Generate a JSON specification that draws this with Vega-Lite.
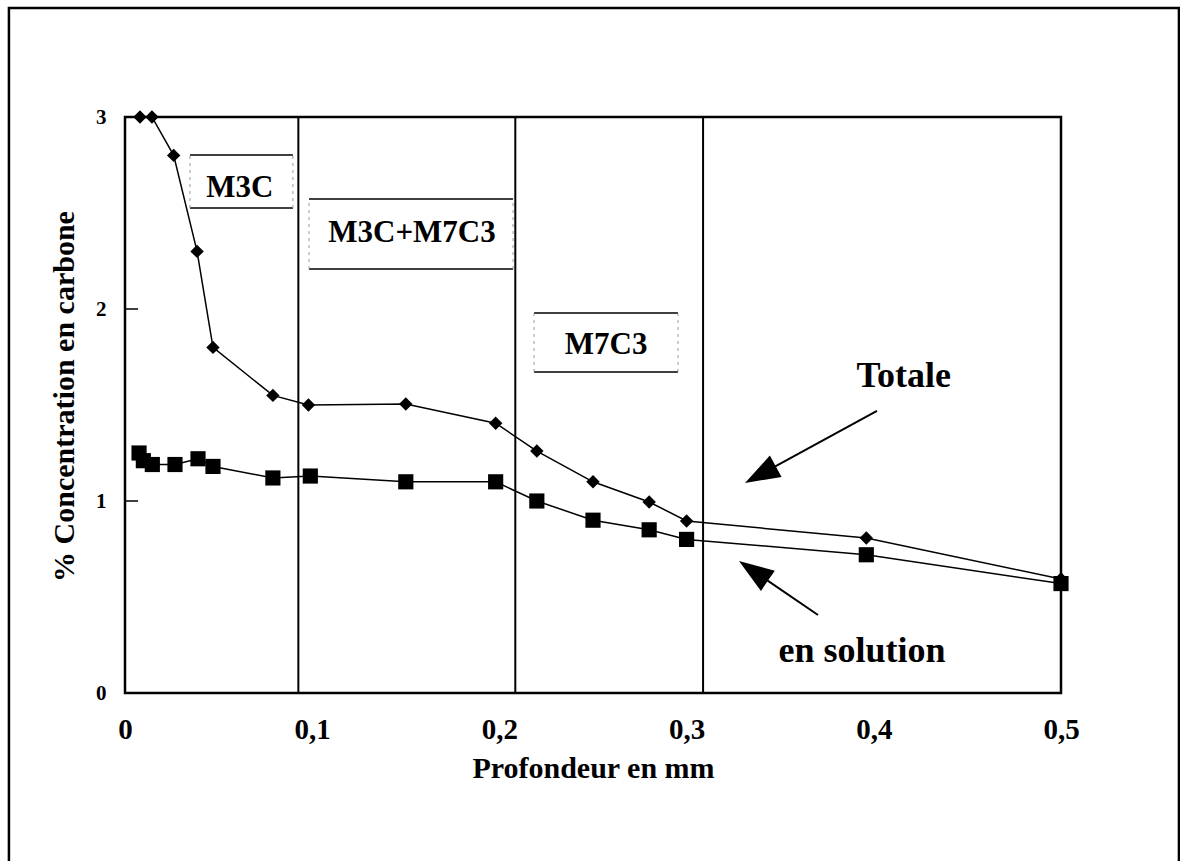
{
  "$schema": "https://vega.github.io/schema/vega-lite/v6.json",
  "autosize": "none",
  "padding": {"left": 125, "top": 117, "right": 119, "bottom": 168},
  "width": 936,
  "height": 576,
  "background": "white",
  "config": {
    "view": {"stroke": "black", "strokeWidth": 2.5},
    "font": "Liberation Serif",
    "axis": {"grid": false, "domain": false, "ticks": false, "tickSize": 0, "labelFlush": false, "labelOverlap": false, "labelFont": "Liberation Serif", "titleFont": "Liberation Serif", "labelFontWeight": "bold", "titleFontWeight": "bold", "labelColor": "black", "titleColor": "black"}
  },
  "datasets": {
    "curves": [
      {"serie": "Totale", "x": 0.008, "y": 3.0},
      {"serie": "Totale", "x": 0.0144, "y": 3.0},
      {"serie": "Totale", "x": 0.026, "y": 2.8},
      {"serie": "Totale", "x": 0.0385, "y": 2.3},
      {"serie": "Totale", "x": 0.047, "y": 1.8},
      {"serie": "Totale", "x": 0.079, "y": 1.55},
      {"serie": "Totale", "x": 0.098, "y": 1.5},
      {"serie": "Totale", "x": 0.15, "y": 1.505},
      {"serie": "Totale", "x": 0.198, "y": 1.405},
      {"serie": "Totale", "x": 0.22, "y": 1.26},
      {"serie": "Totale", "x": 0.25, "y": 1.1},
      {"serie": "Totale", "x": 0.28, "y": 0.995},
      {"serie": "Totale", "x": 0.3, "y": 0.896},
      {"serie": "Totale", "x": 0.396, "y": 0.807},
      {"serie": "Totale", "x": 0.5, "y": 0.594},
      {"serie": "en solution", "x": 0.0075, "y": 1.25},
      {"serie": "en solution", "x": 0.0098, "y": 1.21},
      {"serie": "en solution", "x": 0.0146, "y": 1.19},
      {"serie": "en solution", "x": 0.0267, "y": 1.19},
      {"serie": "en solution", "x": 0.039, "y": 1.22},
      {"serie": "en solution", "x": 0.047, "y": 1.18},
      {"serie": "en solution", "x": 0.079, "y": 1.12},
      {"serie": "en solution", "x": 0.099, "y": 1.13},
      {"serie": "en solution", "x": 0.15, "y": 1.1},
      {"serie": "en solution", "x": 0.198, "y": 1.1},
      {"serie": "en solution", "x": 0.22, "y": 1.0},
      {"serie": "en solution", "x": 0.25, "y": 0.9},
      {"serie": "en solution", "x": 0.28, "y": 0.85},
      {"serie": "en solution", "x": 0.3, "y": 0.8},
      {"serie": "en solution", "x": 0.396, "y": 0.72},
      {"serie": "en solution", "x": 0.5, "y": 0.57}
    ],
    "zones": [{"x": 0.0926}, {"x": 0.2085}, {"x": 0.3088}],
    "ticks": [{"y": 1}, {"y": 2}],
    "boxes": [
      {"label": "M3C", "xc": 0.0614, "yt": 2.583, "x1": 0.0347, "x2": 0.0897, "ytop": 2.802, "ybot": 2.526},
      {"label": "M3C+M7C3", "xc": 0.1533, "yt": 2.349, "x1": 0.0983, "x2": 0.2073, "ytop": 2.573, "ybot": 2.208},
      {"label": "M7C3", "xc": 0.257, "yt": 1.766, "x1": 0.2185, "x2": 0.2954, "ytop": 1.979, "ybot": 1.672}
    ],
    "notes": [
      {"label": "Totale", "x": 0.416, "y": 1.594},
      {"label": "en solution", "x": 0.3937, "y": 0.161}
    ],
    "arrows": [
      {"name": "Totale", "xs": 0.4017, "ys": 1.469, "xt": 0.3312, "yt": 1.094, "xh": 0.3394, "yh": 1.1375, "angle": 241.4},
      {"name": "en solution", "xs": 0.3702, "ys": 0.406, "xt": 0.328, "yt": 0.6875, "xh": 0.3357, "yh": 0.636, "angle": 304.4}
    ],
    "frame": [{"x1": -0.062, "x2": 0.563, "y1": 3.568, "y2": -1.0}]
  },
  "layer": [
    {
      "data": {"name": "frame"},
      "mark": {"type": "rect", "fill": null, "fillOpacity": 0, "stroke": "black", "strokeWidth": 2.5, "clip": false},
      "encoding": {
        "x": {"field": "x1", "type": "quantitative", "scale": {"domain": [0, 0.5], "nice": false, "zero": false}, "axis": {"values": [0, 0.1, 0.2, 0.3, 0.4, 0.5], "labelExpr": "datum.value == 0 ? '0' : replace(format(datum.value, '.1f'), '.', ',')", "labelFontSize": 29, "labelPadding": 22, "title": "Profondeur en mm", "titleFontSize": 30, "titleBaseline": "alphabetic", "titleY": 84}},
        "x2": {"field": "x2"},
        "y": {"field": "y1", "type": "quantitative", "scale": {"domain": [0, 3], "nice": false, "zero": false}, "axis": {"values": [0, 1, 2, 3], "format": "d", "labelFontSize": 21, "labelPadding": 19, "title": "% Concentration en carbone", "titleFontSize": 30, "titleBaseline": "alphabetic", "titleX": -52, "titleY": 279}},
        "y2": {"field": "y2"}
      }
    },
    {
      "data": {"name": "zones"},
      "mark": {"type": "rule", "color": "black", "strokeWidth": 2},
      "encoding": {
        "x": {"field": "x", "type": "quantitative"},
        "y": {"datum": 0, "type": "quantitative"},
        "y2": {"datum": 3}
      }
    },
    {
      "data": {"name": "ticks"},
      "mark": {"type": "rule", "color": "black", "strokeWidth": 1.5},
      "encoding": {
        "x": {"datum": 0, "type": "quantitative"},
        "x2": {"datum": 0.007},
        "y": {"field": "y", "type": "quantitative"}
      }
    },
    {
      "data": {"name": "boxes"},
      "mark": {"type": "rule", "color": "black", "strokeWidth": 1.5},
      "encoding": {
        "x": {"field": "x1", "type": "quantitative"},
        "x2": {"field": "x2"},
        "y": {"field": "ytop", "type": "quantitative"}
      }
    },
    {
      "data": {"name": "boxes"},
      "mark": {"type": "rule", "color": "black", "strokeWidth": 1.5},
      "encoding": {
        "x": {"field": "x1", "type": "quantitative"},
        "x2": {"field": "x2"},
        "y": {"field": "ybot", "type": "quantitative"}
      }
    },
    {
      "data": {"name": "boxes"},
      "mark": {"type": "rule", "color": "#999999", "strokeWidth": 1, "strokeDash": [3, 4]},
      "encoding": {
        "x": {"field": "x1", "type": "quantitative"},
        "y": {"field": "ybot", "type": "quantitative"},
        "y2": {"field": "ytop"}
      }
    },
    {
      "data": {"name": "boxes"},
      "mark": {"type": "rule", "color": "#999999", "strokeWidth": 1, "strokeDash": [3, 4]},
      "encoding": {
        "x": {"field": "x2", "type": "quantitative"},
        "y": {"field": "ybot", "type": "quantitative"},
        "y2": {"field": "ytop"}
      }
    },
    {
      "data": {"name": "boxes"},
      "mark": {"type": "text", "fontSize": 31, "fontWeight": "bold", "font": "Liberation Serif", "align": "center", "baseline": "alphabetic", "color": "black"},
      "encoding": {
        "x": {"field": "xc", "type": "quantitative"},
        "y": {"field": "yt", "type": "quantitative"},
        "text": {"field": "label"}
      }
    },
    {
      "data": {"name": "notes"},
      "mark": {"type": "text", "fontSize": 36, "fontWeight": "bold", "font": "Liberation Serif", "align": "center", "baseline": "alphabetic", "color": "black"},
      "encoding": {
        "x": {"field": "x", "type": "quantitative"},
        "y": {"field": "y", "type": "quantitative"},
        "text": {"field": "label"}
      }
    },
    {
      "data": {"name": "arrows"},
      "mark": {"type": "rule", "color": "black", "strokeWidth": 2},
      "encoding": {
        "x": {"field": "xs", "type": "quantitative"},
        "y": {"field": "ys", "type": "quantitative"},
        "x2": {"field": "xh"},
        "y2": {"field": "yh"}
      }
    },
    {
      "data": {"name": "arrows"},
      "mark": {"type": "point", "shape": "M0,-1L0.7,1L-0.7,1Z", "size": 1225, "filled": true, "color": "black", "opacity": 1},
      "encoding": {
        "x": {"field": "xh", "type": "quantitative"},
        "y": {"field": "yh", "type": "quantitative"},
        "angle": {"field": "angle", "type": "quantitative", "scale": null}
      }
    },
    {
      "data": {"name": "curves"},
      "mark": {"type": "line", "color": "black", "strokeWidth": 1.5},
      "encoding": {
        "x": {"field": "x", "type": "quantitative"},
        "y": {"field": "y", "type": "quantitative"},
        "detail": {"field": "serie"}
      }
    },
    {
      "data": {"name": "curves"},
      "mark": {"type": "point", "filled": true, "color": "black", "opacity": 1},
      "encoding": {
        "x": {"field": "x", "type": "quantitative"},
        "y": {"field": "y", "type": "quantitative"},
        "shape": {"field": "serie", "type": "nominal", "scale": {"domain": ["Totale", "en solution"], "range": ["diamond", "square"]}, "legend": null},
        "size": {"field": "serie", "type": "nominal", "scale": {"domain": ["Totale", "en solution"], "range": [180, 230]}, "legend": null}
      }
    }
  ]
}
